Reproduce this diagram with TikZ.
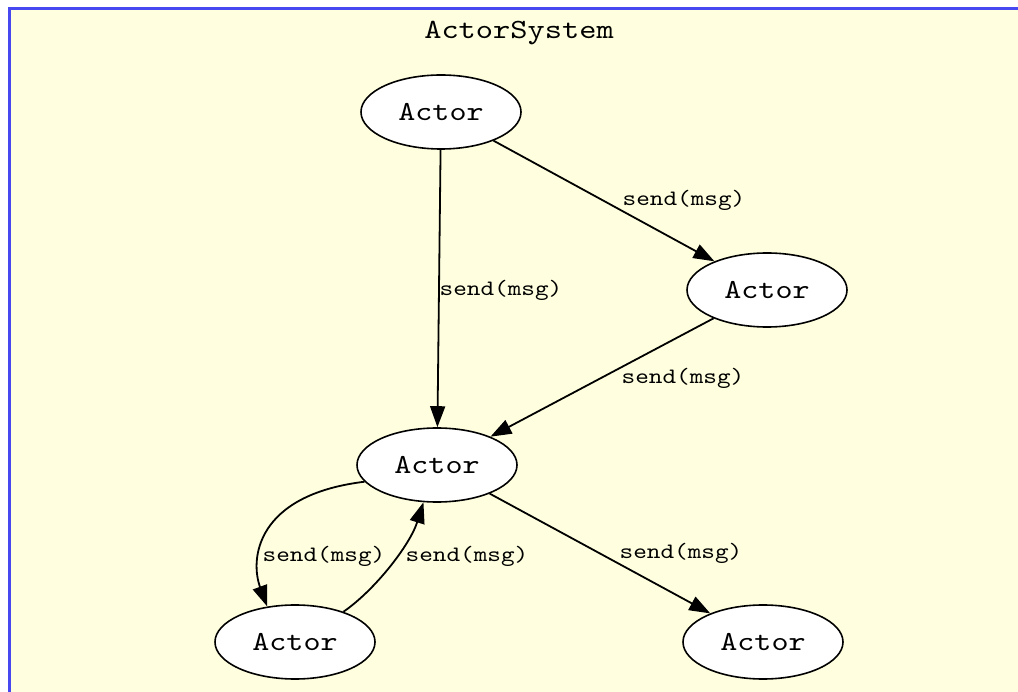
\documentclass[tikz,border=0pt]{standalone}
\usepackage{fontspec}
\newfontfamily\courfont{lmmono10-regular.otf}[FakeStretch=1.18]
\usetikzlibrary{arrows.meta,shapes.geometric}
\begin{document}
\begin{tikzpicture}[x=1pt,y=-1pt,
  actor/.style={ellipse, draw = black, fill = white, line width = 1.6pt, minimum width = 160pt, minimum height = 74pt, inner sep = 0pt, font = \courfont\fontsize{27.5}{30}\selectfont},
  msglabel/.style={inner sep = 1pt, font = \courfont\fontsize{22}{24}\selectfont},
  msgarrow/.style={draw = black, line width = 1.8pt, -{Triangle[length = 21pt, width = 15pt]}}]
\pgfmathsetmacro\W{1018};
\pgfmathsetmacro\H{692};
\useasboundingbox (0,0) rectangle (\W,\H);
\fill[white] (0,0) rectangle (\W,\H);
\definecolor{sysyellow}{RGB}{255,255,224}
\definecolor{sysblue}{RGB}{72,72,240}
\draw [fill = sysyellow, draw = sysblue, line width = 2.2pt] (9.5,8.5) rectangle (\W+30,\H+30);
\node[font = \courfont\fontsize{27.8}{30}\selectfont] (title) at (519,33) {ActorSystem};
% actors
\node[actor] (top) at (441,112) {Actor};
\node[actor] (right) at (767,290) {Actor};
\node[actor] (mid) at (437,465) {Actor};
\node[actor] (left) at (295,642) {Actor};
\node[actor] (low) at (763,642) {Actor};
% messages
\draw [msgarrow] (top) -- (mid);
\draw [msgarrow] (top) -- (right);
\draw [msgarrow] (right) -- (mid);
\draw [msgarrow] (mid) -- (low);
\draw [msgarrow] (mid.193) .. controls (255,495) and (250,560) .. (left.128);
\draw [msgarrow] (left.32) .. controls (375,590) and (410,545) .. (mid.250);
\node[msglabel] (sendA) at (501,290) {send(msg)};
\node[msglabel] (sendB) at (684,200) {send(msg)};
\node[msglabel] (sendC) at (683,378) {send(msg)};
\node[msglabel] (sendD) at (324,556) {send(msg)};
\node[msglabel] (sendE) at (467,556) {send(msg)};
\node[msglabel] (sendF) at (681,553) {send(msg)};
\end{tikzpicture}
\end{document}
